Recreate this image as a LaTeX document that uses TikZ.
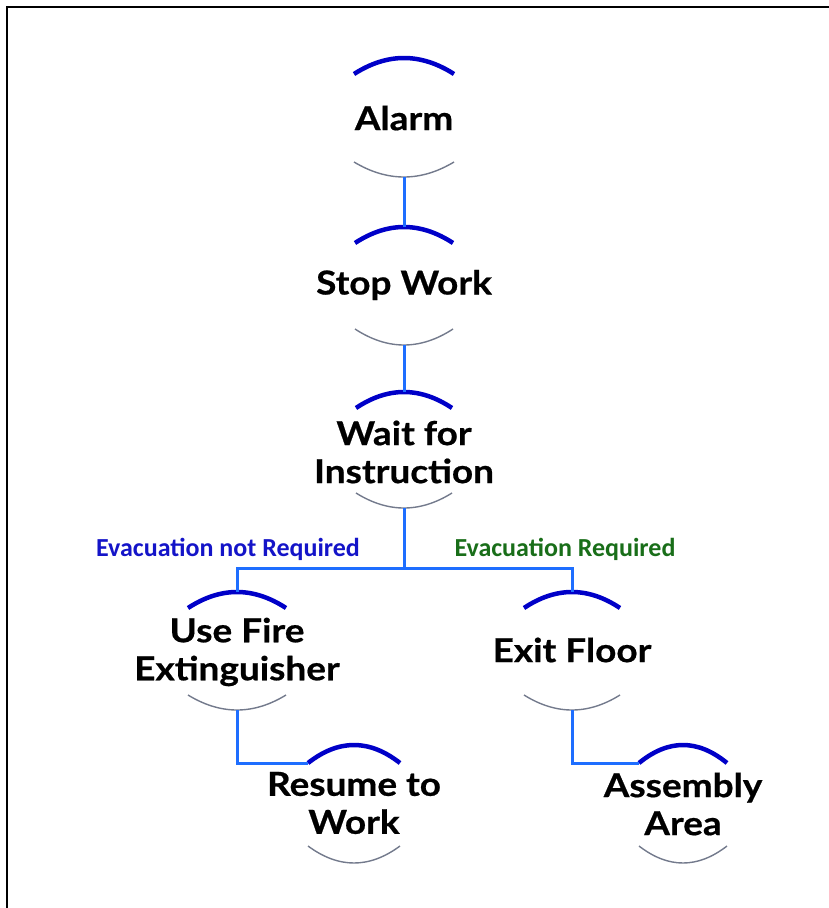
\documentclass[tikz,border=0pt]{standalone}
\usepackage{fontspec}
\setmainfont{Lato}
\newfontfamily\stepfont[FakeStretch=1.12,FakeBold=0.6]{Lato}
\newfontfamily\labfont{Carlito}
\definecolor{arcblue}{RGB}{0,0,200}
\definecolor{arcgray}{RGB}{115,122,140}
\definecolor{linkblue}{RGB}{30,110,255}
\definecolor{labblue}{RGB}{20,20,200}
\definecolor{labgreen}{RGB}{25,110,25}
\newcommand\stepnode[7]{%
  \pgfmathsetmacro\xa{#2-#5}\pgfmathsetmacro\xb{#2-#5/3}%
  \pgfmathsetmacro\xc{#2+#5/3}\pgfmathsetmacro\xd{#2+#5}%
  \pgfmathsetmacro\ya{#3+#6}\pgfmathsetmacro\yb{#3-#6/3}%
  \pgfmathsetmacro\yc{#4-#7}\pgfmathsetmacro\yd{#4+#7/3}%
  \coordinate (#1-t) at (#2,#3);
  \coordinate (#1-b) at (#2,#4);
  \coordinate (#1-l) at (\xa,\ya);
  \draw[toparc] (\xa,\ya) .. controls (\xb,\yb) and (\xc,\yb) .. (\xd,\ya);
  \draw[botarc] (\xa,\yc) .. controls (\xb,\yd) and (\xc,\yd) .. (\xd,\yc);
}
\begin{document}
\begin{tikzpicture}[x=1pt,y=-1pt,
  toparc/.style={draw=arcblue,line width=4.5pt},
  botarc/.style={draw=arcgray,line width=1.4pt},
  link/.style={draw=linkblue,line width=3pt},
  steptext/.style={font=\stepfont\fontsize{33}{38}\selectfont\bfseries,align=center,inner sep=0pt},
  branchlab/.style={font=\labfont\fontsize{26}{30}\selectfont\bfseries,inner sep=0pt}]
\useasboundingbox (0,0) rectangle (829,908);
\draw[line width=2.2pt] (6.7,908) -- (6.7,6.7) -- (829,6.7);

\stepnode{alarm}{404}{58}{177}{50}{16}{15}
\stepnode{stop}{404}{227}{345}{49}{16}{16}
\stepnode{wait}{404}{392}{508}{48}{16}{15}
\stepnode{fire}{237}{592}{710}{49}{16}{15}
\stepnode{exit}{572}{592}{710}{48}{16}{15}
\stepnode{resume}{354}{745}{863}{46}{18}{17}
\stepnode{assembly}{683}{745}{863}{44}{18}{17}

\node[steptext] (alarmtxt) at (404,118) {Alarm};
\node[steptext] (stoptxt) at (404,285) {Stop Work};
\node[steptext] (waittxt) at (404,452) {Wait for\\Instruction};
\node[steptext] (firetxt) at (237,652) {Use Fire\\Extinguisher};
\node[steptext] (exittxt) at (572,650) {Exit Floor};
\node[steptext] (resumetxt) at (354,803) {Resume to\\Work};
\node[steptext] (assemblytxt) at (683,804) {Assembly\\Area};

\coordinate (split) at (404,568);
\draw[link] (alarm-b) -- (stop-t);
\draw[link] (stop-b) -- (wait-t);
\draw[link] (wait-b) -- (split) -| (fire-t);
\draw[link] (split) -| (exit-t);
\draw[link] (fire-b) |- (resume-l);
\draw[link] (exit-b) |- (assembly-l);

\node[branchlab,text=labblue] (lab1) at (228,549) {Evacuation not Required};
\node[branchlab,text=labgreen] (lab2) at (565,549) {Evacuation Required};
\end{tikzpicture}
\end{document}
